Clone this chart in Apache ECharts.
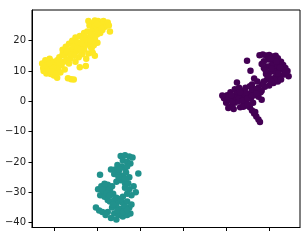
<!DOCTYPE html>
<html>
<head>
<meta charset="utf-8">
<script src="https://cdn.jsdelivr.net/npm/echarts@6/dist/echarts.min.js"></script>
<style>html,body{margin:0;padding:0;background:#fff}#c{width:308px;height:240px}</style>
</head>
<body>
<div id="c"></div>
<script>
const xTicks = [-60, -40, -20, 0, 20, 40];
const yTicks = [-40, -30, -20, -10, 0, 10, 20];
const xRange = [-70.2, 54.3];
const yRange = [-41.6, 30.1];

const purplePoints = [
  [35.5,15.2],[37,15.4],[38.5,15.1],[40,15.3],[41.5,14.8],[43,15],[44,14.2],[42,13.5],[39.5,13.8],[37.5,13.2],
  [45.5,13],[46.5,12],[44.5,12],[43,11.5],[41,12],[39,11.5],[37.5,11],[47.5,11],[48.5,10],[46,10.5],
  [44,10],[42,9.8],[40,9.5],[38.5,9],[47,8.8],[49,8.3],[45,8.5],[43,8],[41,7.5],[39,7.2],
  [37.5,6.5],[44,6.5],[42,6],[40,5.2],[38,4.8],[36.5,5.5],[45.5,7.2],
  [40.5,14],[43.5,13],[41,10.8],[45,11.2],[39.5,8.2],[42.5,7],[36.5,12.3],[38.3,10.2],[44.2,9.2],[40.8,6.5],[47.8,9.6],
  [33,7.5],[34.5,6.5],[32,5.5],[35,4.5],[36.5,3.5],[33.5,4],
  [29.7,13.4],[31.3,10.1],[25,6.2],
  [19,1],[20,-0.5],[20.5,2],[21.5,0.5],[22,3],[22.5,-1.5],[23,1.5],[24,4],[24,-0.5],[25,2.5],
  [25.5,0],[26,4.5],[26.5,-2],[27,1.5],[27.5,3.5],[28,-0.5],[28.5,2],[29,4.5],[29.5,0.5],[30,-1.5],
  [30.5,2.5],[31,5],[31.5,1],[32,3.5],[32.5,-0.5],[33,2],[34,4],[35,1.5],[36,3],[36.5,0.5],
  [21,-2.2],[23.5,-2.5],[18.2,1.9],
  [21,1.5],[23,0],[24.5,1.2],[26,1],[27.5,0.2],[29,2.8],[30,1],[32,1.8],[34,2.6],[26.5,3],[22.5,2],[28,-1.8],
  [31,-2],[32,-3],[33,-4],[34,-5],[35,-6],[35.7,-6.8],[30,-1],[33.5,-3.5]
];

const tealPoints = [
  [-29,-18],[-27,-17.8],[-25,-18.2],[-23.5,-18.5],[-28,-19.5],[-26,-20],[-24.5,-20.5],[-30.5,-21],[-28.5,-21.5],[-27,-22],[-31.5,-22.5],
  [-38.6,-24.2],[-20.8,-23.8],
  [-33.5,-22.5],[-32,-24],[-30,-23.5],[-28,-24.5],[-26.5,-23.5],[-25,-25],[-29,-26],[-27,-27],[-31,-26.5],[-25.5,-27],
  [-29.5,-22.5],[-27,-25.5],[-30,-25],[-26,-21.5],
  [-39.5,-29],[-38,-28],[-37,-30],[-36,-28.5],[-35,-27.5],[-34,-29],[-33,-28],[-38.5,-31],[-36.5,-31.5],[-32.5,-30.5],[-35,-32.5],
  [-37.5,-29.2],[-35.5,-30.2],[-34,-31],[-36.5,-27.2],
  [-27,-28.5],[-25,-29],[-23,-28],[-22,-30],[-24,-31],[-26,-30.5],[-28,-31.5],
  [-34,-33],[-32,-32.5],[-30,-33],[-28,-33.5],[-26,-33],[-33,-35],[-31,-34.5],[-29,-35.5],[-27,-36],[-25,-35],[-24,-34],
  [-35,-36.5],[-32,-37],[-30,-37.5],[-28,-38],[-26,-37.5],[-33.5,-38.5],[-31,-39],[-29,-36.8],[-24.5,-37],
  [-31,-31.8],[-29,-32.2],[-27,-34.8],[-30.5,-36],[-32.5,-34],[-28,-36.5],[-26,-35.8],
  [-40.5,-35],[-39,-36],[-37.5,-36.5],[-36,-37.5]
];

const yellowPoints = [
  [-65.5,12.5],[-65,11],[-64.8,10],[-64,13.5],[-63.5,9.2],[-63,12],[-62.5,10.5],[-62,14],[-61.5,9],[-61,11.5],
  [-60.5,13],[-60,8.5],[-59.5,10],[-59,12.5],[-58.5,7.8],[-58,11],[-57.5,14.5],[-57,9.5],[-56.5,12],[-56,15.5],
  [-55.5,13],[-55,10.5],
  [-64,11.8],[-62,12.5],[-60.5,11],[-58.5,13.5],[-61,9.8],[-57.5,12.8],[-59,9],
  [-56,17],[-55,15],[-54.5,18],[-54,13.5],[-53.5,16],[-53,19],[-52.5,14],[-52,17],[-51.5,20],[-51,15.5],
  [-50.5,18.5],[-50,13],[-50,21],[-49.5,16.5],[-49,19.5],[-48.5,14.5],[-48,17.5],[-48,21.5],[-47.5,19],[-47,15.5],
  [-46.5,20.5],[-46,17],[-46,22.5],[-45.5,18.5],[-45,14],[-45,21],
  [-54,16.5],[-52,15.5],[-51,18],[-49,17.5],[-47.5,17],[-46.5,19],[-44.5,20],[-53,12.5],[-50.5,15],
  [-53.5,7.6],[-52,7.3],[-50.8,7.2],[-48,11.2],[-45.2,11.6],[-39.8,19.3],
  [-44.5,23],[-44,19.5],[-43.5,25],[-43,21.5],[-42.5,17.5],[-42,23.5],[-41.5,26],[-41,20.5],[-40.5,24],[-40,22],
  [-39.5,26.5],[-39,24.5],[-38.5,22.5],[-38,25.5],[-37.5,23.5],[-37,26.5],[-36.5,24.5],[-36,25.5],[-35.5,25],[-35,26],
  [-34.5,25],[-34,23],[-42,16],[-43,18],[-41,15],[-44,15.8],[-44,26.5],[-41,26.6],
  [-42.5,22],[-41,24.8],[-39.5,23.2],[-38,24],[-43,19.8],[-41.5,18.5],[-40,25.5]
];

const seriesColors = ['#440154', '#21918c', '#fde725'];

const chart = echarts.init(document.getElementById('c'), null, {renderer: 'canvas'});
const axisCommon = {
  axisLine: {show: true, onZero: false, lineStyle: {color: '#000', width: 1}},
  splitLine: {show: false}
};
chart.setOption({
  animation: false,
  grid: {left: 32, top: 10, right: 8, bottom: 12.5, show: true, borderColor: '#000', borderWidth: 1},
  xAxis: Object.assign({
    type: 'value', min: xRange[0], max: xRange[1],
    axisTick: {show: true, inside: false, length: 3.5, customValues: xTicks, lineStyle: {color: '#000'}},
    axisLabel: {show: false}
  }, axisCommon),
  yAxis: Object.assign({
    type: 'value', min: yRange[0], max: yRange[1],
    axisTick: {show: true, inside: false, length: 3.5, customValues: yTicks, lineStyle: {color: '#000'}},
    axisLabel: {show: true, customValues: yTicks, margin: 6, color: '#222', fontFamily: 'DejaVu Sans', fontSize: 10,
      formatter: v => (v < 0 ? '\u2212' + Math.abs(v) : String(v))}
  }, axisCommon),
  series: [purplePoints, tealPoints, yellowPoints].map((d, i) => ({
    type: 'scatter', data: d, symbolSize: 6.5,
    itemStyle: {color: seriesColors[i], opacity: 1}
  }))
});
</script>
</body>
</html>
